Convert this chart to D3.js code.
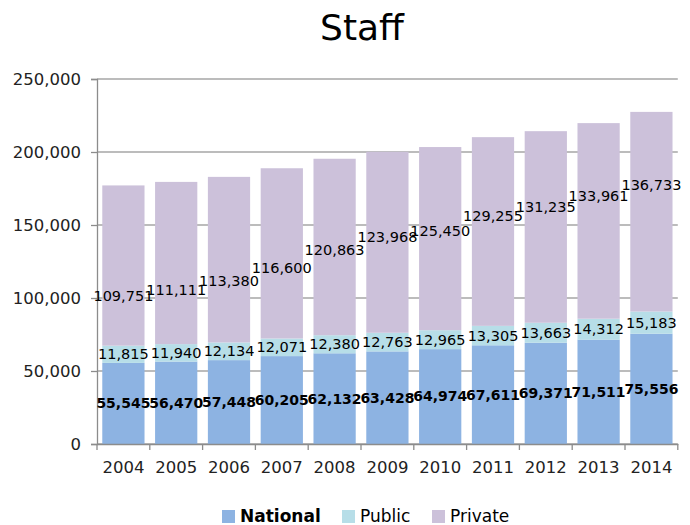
<!DOCTYPE html>
<html>
<head>
<meta charset="utf-8">
<script src="https://d3js.org/d3.v7.min.js"></script>
<style>
html,body{margin:0;padding:0;background:#fff;}
svg{display:block;font-family:"DejaVu Sans",Verdana,sans-serif;}
</style>
</head>
<body>
<svg id="chart" width="690" height="525"></svg>
<script>
const years = ["2004","2005","2006","2007","2008","2009","2010","2011","2012","2013","2014"];
const national = [55545,56470,57448,60205,62132,63428,64974,67611,69371,71511,75556];
const publicV = [11815,11940,12134,12071,12380,12763,12965,13305,13663,14312,15183];
const privateV = [109751,111111,113380,116600,120863,123968,125450,129255,131235,133961,136733];
const yTicks = [0,50000,100000,150000,200000,250000];
const seriesNames = ["National","Public","Private"];
const colors = ["#8DB3E2","#B7DEE8","#CCC1DA"];

const svg = d3.select("#chart");
const margin = {left:97, right:13, top:79, bottom:81};
const W = 690, H = 525;
const x = d3.scaleBand().domain(years).range([margin.left, 677.8]).paddingInner(0.2).paddingOuter(0.1);
const y = d3.scaleLinear().domain([0,250000]).range([444,79]);
// private labels sit on a stretched secondary scale, as in the source chart
const yPrivLabel = d3.scaleLinear().domain([73800,162400]).range([444,79]);

const rows = years.map((yr,i)=>({year:yr, National:national[i], Public:publicV[i], Private:privateV[i]}));
const stack = d3.stack().keys(seriesNames)(rows);

// gridlines
svg.append("g").selectAll("line").data(yTicks).join("line")
  .attr("x1", margin.left).attr("x2", 677.8)
  .attr("y1", d=>y(d)).attr("y2", d=>y(d))
  .attr("stroke","#a6a6a6").attr("stroke-width",1.3);

// bars
stack.forEach((s,si)=>{
  svg.append("g").selectAll("rect").data(s).join("rect")
    .attr("x", d=>x(d.data.year))
    .attr("width", x.bandwidth())
    .attr("y", d=>y(d[1]))
    .attr("height", d=>y(d[0])-y(d[1]))
    .attr("fill", colors[si]);
});

// y axis
const yAxis = d3.axisLeft(y).tickValues(yTicks).tickSize(6).tickPadding(10)
  .tickFormat(d3.format(","));
const gy = svg.append("g").attr("transform",`translate(${margin.left},0)`).call(yAxis);
gy.select(".domain").attr("stroke","#8c8c8c").attr("stroke-width",1.3);
gy.selectAll(".tick line").attr("stroke","#8c8c8c").attr("stroke-width",1.3);
gy.selectAll(".tick text").attr("font-size","16.5px").attr("fill","#222")
  .attr("font-family","DejaVu Sans, Verdana, sans-serif");

// x axis
const xAxis = d3.axisBottom(x).tickSize(0).tickPadding(17);
const gx = svg.append("g").attr("transform","translate(0,444)").call(xAxis);
gx.select(".domain").attr("stroke","#8c8c8c").attr("stroke-width",1.3);
gx.selectAll(".tick text").attr("font-size","16.5px").attr("fill","#222")
  .attr("font-family","DejaVu Sans, Verdana, sans-serif");
// category separators
const step = x.step();
const bounds = d3.range(years.length+1).map(i=>margin.left + i*step);
svg.append("g").selectAll("line").data(bounds).join("line")
  .attr("x1",d=>d).attr("x2",d=>d).attr("y1",444).attr("y2",450)
  .attr("stroke","#8c8c8c").attr("stroke-width",1.3);

// labels
const fmt = d3.format(",");
const cx = d => x(d.data.year) + x.bandwidth()/2;
svg.append("g").selectAll("text").data(stack[0]).join("text")
  .attr("x",cx).attr("y",d=>y((d[0]+d[1])/2)).attr("dy","0.35em")
  .attr("text-anchor","middle").attr("font-size","14px").attr("font-weight","bold")
  .attr("fill","#000").text(d=>fmt(d[1]-d[0]));
svg.append("g").selectAll("text").data(stack[1]).join("text")
  .attr("x",cx).attr("y",d=>y((d[0]+d[1])/2)).attr("dy","0.35em")
  .attr("text-anchor","middle").attr("font-size","14.5px")
  .attr("fill","#000").text(d=>fmt(d[1]-d[0]));
svg.append("g").selectAll("text").data(stack[2]).join("text")
  .attr("x",cx).attr("y",d=>yPrivLabel(d[1]-d[0])).attr("dy","0.35em")
  .attr("text-anchor","middle").attr("font-size","14.5px")
  .attr("fill","#000").text(d=>fmt(d[1]-d[0]));

// title
svg.append("text").attr("x",362).attr("y",40).attr("text-anchor","middle")
  .attr("font-size","36px").attr("fill","#000").text("Staff");

// legend
const legX = [222,342,432];
const lg = svg.append("g").selectAll("g").data(seriesNames).join("g")
  .attr("transform",(d,i)=>`translate(${legX[i]},0)`);
lg.append("rect").attr("x",0).attr("y",510).attr("width",13).attr("height",13)
  .attr("fill",(d,i)=>colors[i]);
lg.append("text").attr("x",18).attr("y",522).attr("font-size","17px")
  .attr("font-weight",(d,i)=>i===0?"bold":"normal").attr("fill","#000").text(d=>d);
</script>
</body>
</html>
